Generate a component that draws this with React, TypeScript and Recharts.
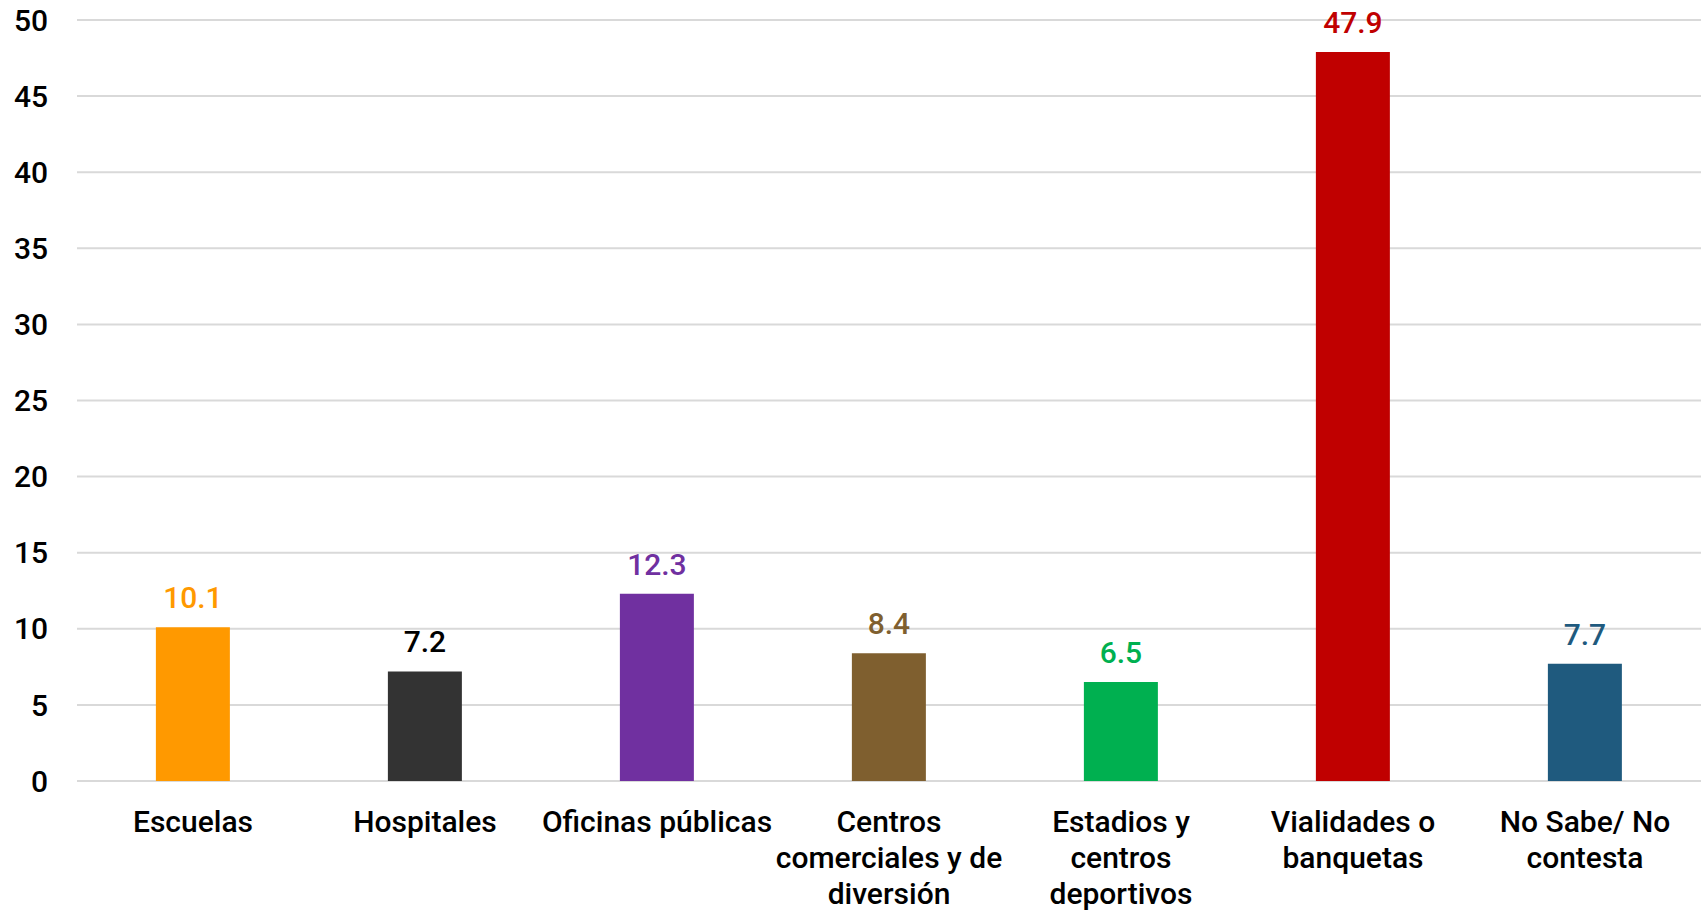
import { BarChart, Bar, XAxis, YAxis, CartesianGrid, Cell, LabelList } from "recharts";

const categories = [
  "Escuelas",
  "Hospitales",
  "Oficinas públicas",
  "Centros comerciales y de diversión",
  "Estadios y centros deportivos",
  "Vialidades o banquetas",
  "No Sabe/ No contesta",
];
// how each category label wraps under the axis
const tickLabelLines = [
  ["Escuelas"],
  ["Hospitales"],
  ["Oficinas públicas"],
  ["Centros", "comerciales y de", "diversión"],
  ["Estadios y", "centros", "deportivos"],
  ["Vialidades o", "banquetas"],
  ["No Sabe/ No", "contesta"],
];
const values = [10.1, 7.2, 12.3, 8.4, 6.5, 47.9, 7.7];
const barColors = ["#FF9900", "#333333", "#7030A0", "#7F5F2F", "#00B050", "#C00000", "#1F5A7E"];
const labelColors = ["#FF9900", "#000000", "#7030A0", "#7F5F2F", "#00B050", "#C00000", "#1F5A7E"];
const yTicks = [0, 5, 10, 15, 20, 25, 30, 35, 40, 45, 50];

const data = categories.map((name, i) => ({ name, value: values[i] }));

const FONT = "Roboto, 'Liberation Sans', Arial, sans-serif";

const CategoryTick = (props: any) => {
  const { x, y, index } = props;
  const lines = tickLabelLines[index] || [];
  return (
    <text
      x={x}
      y={y + 43}
      textAnchor="middle"
      fontSize={30}
      fontWeight={500}
      fontFamily={FONT}
      fill="#000000"
    >
      {lines.map((line, i) => (
        <tspan key={i} x={x} dy={i === 0 ? 0 : 36}>
          {line}
        </tspan>
      ))}
    </text>
  );
};

const ValueLabel = (props: any) => {
  const { x, y, width, value, index } = props;
  return (
    <text
      x={x + width / 2}
      y={y - 19}
      textAnchor="middle"
      fontSize={30}
      fontWeight={500}
      fontFamily={FONT}
      fill={labelColors[index]}
    >
      {value}
    </text>
  );
};

export default function App() {
  return (
    <div style={{ width: 1704, height: 910, background: "#ffffff" }}>
      <style>{`body{margin:0}`}</style>
      <BarChart
        width={1704}
        height={910}
        data={data}
        margin={{ top: 20, right: 3, bottom: 0, left: 0 }}
        barCategoryGap="34%"
      >
        <CartesianGrid vertical={false} stroke="#d9d9d9" strokeWidth={2} />
        <XAxis
          dataKey="name"
          axisLine={false}
          tickLine={false}
          height={129}
          interval={0}
          tick={<CategoryTick />}
        />
        <YAxis
          domain={[0, 50]}
          ticks={yTicks}
          axisLine={false}
          tickLine={false}
          tickSize={0}
          tickMargin={29}
          width={77}
          tick={{ fontSize: 30, fontWeight: 500, fontFamily: FONT, fill: "#000000" }}
        />
        <Bar dataKey="value" isAnimationActive={false}>
          {data.map((d, i) => (
            <Cell key={d.name} fill={barColors[i]} />
          ))}
          <LabelList dataKey="value" content={<ValueLabel />} />
        </Bar>
      </BarChart>
    </div>
  );
}
